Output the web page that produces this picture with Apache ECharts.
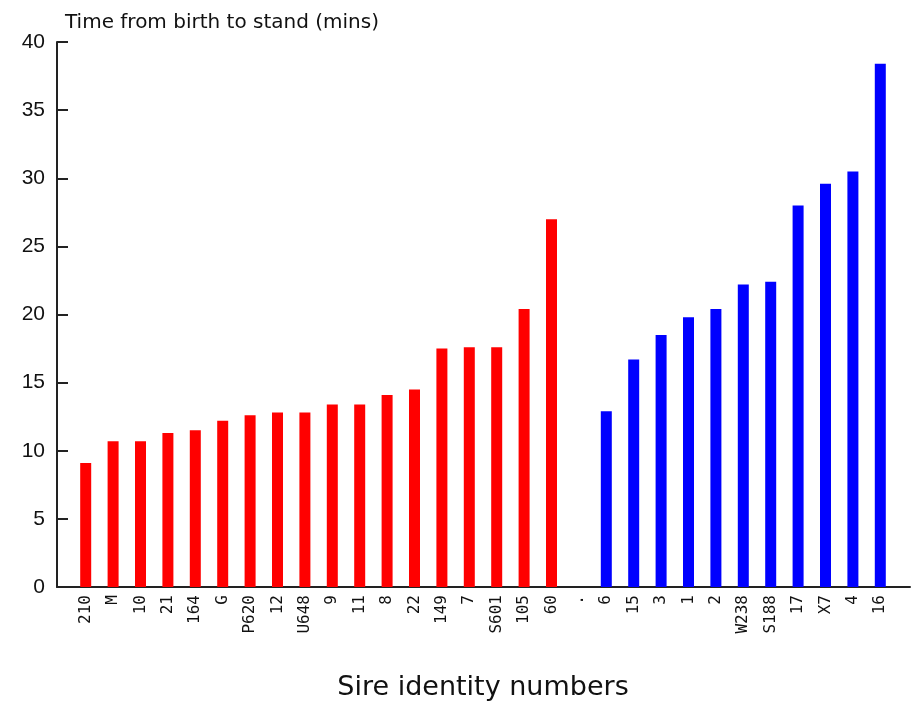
<!DOCTYPE html>
<html>
<head>
<meta charset="utf-8">
<title>Time from birth to stand</title>
<script src="https://cdn.jsdelivr.net/npm/echarts@6/dist/echarts.min.js"></script>
<style>
  html, body { margin: 0; padding: 0; background: #fff; }
  #chart { width: 912px; height: 704px; }
</style>
</head>
<body>
<div id="chart"></div>
<script>
// sires in the first group (red) and second group (blue)
const redSires = ['210', 'M', '10', '21', '164', 'G', 'P620', '12', 'U648', '9', '11', '8', '22', '149', '7', 'S601', '105', '60']
const redTimes = [9.1, 10.7, 10.7, 11.3, 11.5, 12.2, 12.6, 12.8, 12.8, 13.4, 13.4, 14.1, 14.5, 17.5, 17.6, 17.6, 20.4, 27.0]
const gapLabel = ['.']
const blueSires = ['6', '15', '3', '1', '2', 'W238', 'S188', '17', 'X7', '4', '16']
const blueTimes = [12.9, 16.7, 18.5, 19.8, 20.4, 22.2, 22.4, 28.0, 29.6, 30.5, 38.4]
const yTicks = [0, 5, 10, 15, 20, 25, 30, 35, 40]

const categories = redSires.concat(gapLabel, blueSires)
const blank = n => Array(n).fill('-')
const redData = redTimes.concat(blank(gapLabel.length + blueSires.length))
const blueData = blank(redSires.length + gapLabel.length).concat(blueTimes)

const chart = echarts.init(document.getElementById('chart'))
const axisColor = '#222'

const option = {
  backgroundColor: '#fff',
  animation: false,
  title: {
    text: 'Time from birth to stand (mins)',
    left: 60,
    top: 8,
    textStyle: { fontFamily: 'DejaVu Sans', fontSize: 20, fontWeight: 'normal', color: '#111' }
  },
  grid: [
    // bars
    { left: 72, right: 18, top: 42, bottom: 117, outerBoundsMode: 'none' },
    // frame (axis lines and y ticks)
    { left: 57, right: 2, top: 42, bottom: 117, outerBoundsMode: 'none' }
  ],
  xAxis: [
    {
      type: 'category',
      gridIndex: 0,
      data: categories,
      axisLine: { show: false },
      axisTick: { show: false },
      axisLabel: {
        rotate: 90,
        interval: 0,
        margin: 8,
        fontFamily: 'DejaVu Sans Mono',
        fontSize: 16,
        color: '#111'
      },
      name: 'Sire identity numbers',
      nameLocation: 'middle',
      nameGap: 87,
      nameTextStyle: { fontFamily: 'DejaVu Sans', fontSize: 27, color: '#111' }
    },
    {
      type: 'value',
      gridIndex: 1,
      min: 0,
      max: 1,
      axisLine: { show: true, lineStyle: { color: axisColor, width: 2 } },
      axisTick: { show: false },
      axisLabel: { show: false },
      splitLine: { show: false }
    }
  ],
  yAxis: [
    {
      type: 'value',
      gridIndex: 0,
      min: 0,
      max: 40,
      show: false
    },
    {
      type: 'value',
      gridIndex: 1,
      min: 0,
      max: 40,
      interval: 5,
      axisLine: { show: true, lineStyle: { color: axisColor, width: 2 } },
      axisTick: { show: true, inside: true, length: 11, lineStyle: { color: axisColor, width: 2 } },
      axisLabel: {
        margin: 12,
        fontFamily: 'Liberation Sans',
        fontSize: 21,
        color: '#111',
        formatter: v => (yTicks.includes(v) ? String(v) : '')
      },
      splitLine: { show: false }
    }
  ],
  series: [
    {
      name: 'Group 1',
      type: 'bar',
      xAxisIndex: 0,
      yAxisIndex: 0,
      data: redData,
      barWidth: 11,
      barGap: '-100%',
      itemStyle: { color: '#ff0000' }
    },
    {
      name: 'Group 2',
      type: 'bar',
      xAxisIndex: 0,
      yAxisIndex: 0,
      data: blueData,
      barWidth: 11,
      barGap: '-100%',
      itemStyle: { color: '#0000ff' }
    }
  ]
}

chart.setOption(option)
</script>
</body>
</html>
